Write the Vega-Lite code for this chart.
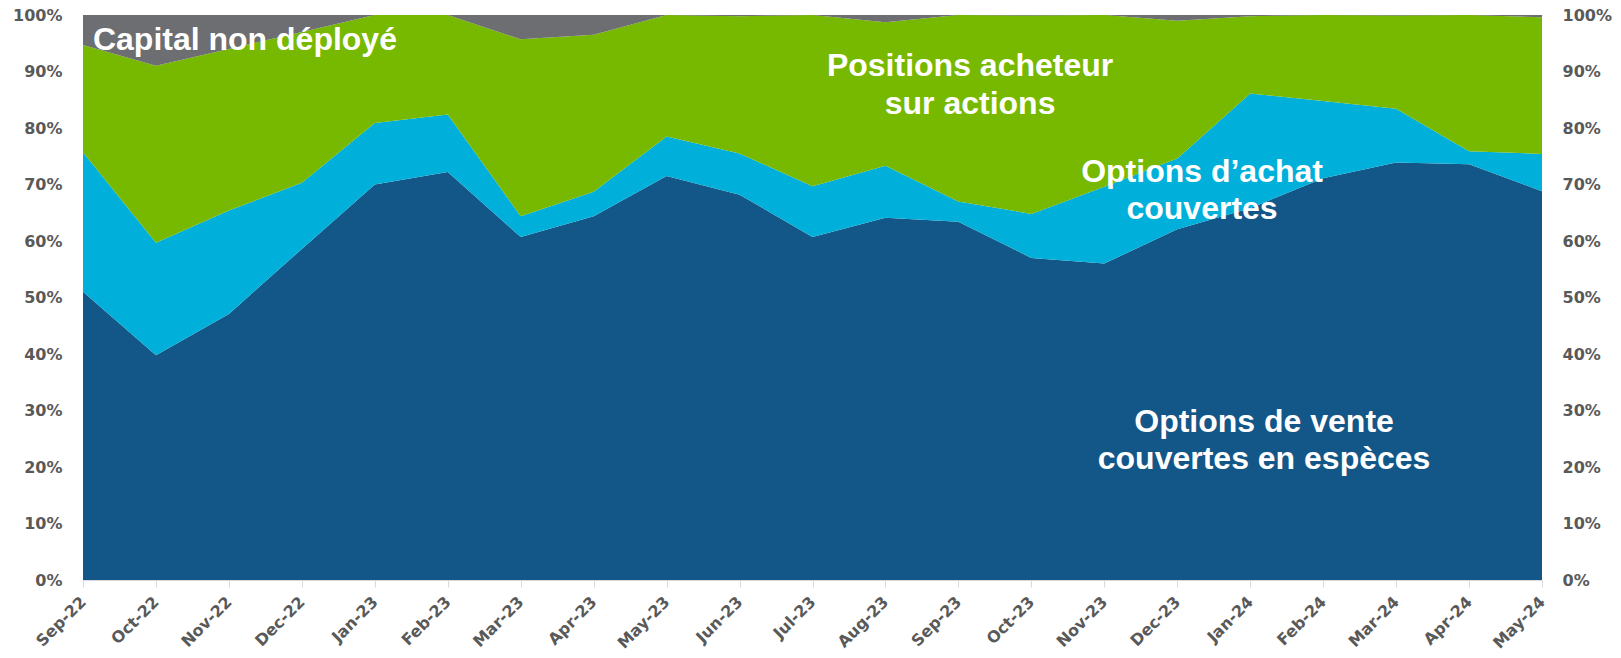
{
  "$schema": "https://vega.github.io/schema/vega-lite/v6.json",
  "width": 1459,
  "height": 565,
  "autosize": {"type": "none"},
  "padding": {"left": 83, "top": 15, "right": 79, "bottom": 78},
  "background": "white",
  "config": {"view": {"stroke": null}},
  "datasets": {
    "areas": [
      {"i": 0, "month": "Sep-22", "series": "Options de vente couvertes en espèces", "ord": 1, "value": 51.0},
      {"i": 0, "month": "Sep-22", "series": "Options d'achat couvertes", "ord": 2, "value": 24.7},
      {"i": 0, "month": "Sep-22", "series": "Positions acheteur sur actions", "ord": 3, "value": 19.0},
      {"i": 0, "month": "Sep-22", "series": "Capital non déployé", "ord": 4, "value": 5.3},
      {"i": 1, "month": "Oct-22", "series": "Options de vente couvertes en espèces", "ord": 1, "value": 39.8},
      {"i": 1, "month": "Oct-22", "series": "Options d'achat couvertes", "ord": 2, "value": 19.9},
      {"i": 1, "month": "Oct-22", "series": "Positions acheteur sur actions", "ord": 3, "value": 31.3},
      {"i": 1, "month": "Oct-22", "series": "Capital non déployé", "ord": 4, "value": 9.0},
      {"i": 2, "month": "Nov-22", "series": "Options de vente couvertes en espèces", "ord": 1, "value": 47.1},
      {"i": 2, "month": "Nov-22", "series": "Options d'achat couvertes", "ord": 2, "value": 18.3},
      {"i": 2, "month": "Nov-22", "series": "Positions acheteur sur actions", "ord": 3, "value": 28.6},
      {"i": 2, "month": "Nov-22", "series": "Capital non déployé", "ord": 4, "value": 6.0},
      {"i": 3, "month": "Dec-22", "series": "Options de vente couvertes en espèces", "ord": 1, "value": 58.6},
      {"i": 3, "month": "Dec-22", "series": "Options d'achat couvertes", "ord": 2, "value": 11.7},
      {"i": 3, "month": "Dec-22", "series": "Positions acheteur sur actions", "ord": 3, "value": 26.7},
      {"i": 3, "month": "Dec-22", "series": "Capital non déployé", "ord": 4, "value": 3.0},
      {"i": 4, "month": "Jan-23", "series": "Options de vente couvertes en espèces", "ord": 1, "value": 70.0},
      {"i": 4, "month": "Jan-23", "series": "Options d'achat couvertes", "ord": 2, "value": 10.9},
      {"i": 4, "month": "Jan-23", "series": "Positions acheteur sur actions", "ord": 3, "value": 19.1},
      {"i": 4, "month": "Jan-23", "series": "Capital non déployé", "ord": 4, "value": 0.0},
      {"i": 5, "month": "Feb-23", "series": "Options de vente couvertes en espèces", "ord": 1, "value": 72.2},
      {"i": 5, "month": "Feb-23", "series": "Options d'achat couvertes", "ord": 2, "value": 10.2},
      {"i": 5, "month": "Feb-23", "series": "Positions acheteur sur actions", "ord": 3, "value": 17.6},
      {"i": 5, "month": "Feb-23", "series": "Capital non déployé", "ord": 4, "value": 0.0},
      {"i": 6, "month": "Mar-23", "series": "Options de vente couvertes en espèces", "ord": 1, "value": 60.7},
      {"i": 6, "month": "Mar-23", "series": "Options d'achat couvertes", "ord": 2, "value": 3.7},
      {"i": 6, "month": "Mar-23", "series": "Positions acheteur sur actions", "ord": 3, "value": 31.3},
      {"i": 6, "month": "Mar-23", "series": "Capital non déployé", "ord": 4, "value": 4.3},
      {"i": 7, "month": "Apr-23", "series": "Options de vente couvertes en espèces", "ord": 1, "value": 64.4},
      {"i": 7, "month": "Apr-23", "series": "Options d'achat couvertes", "ord": 2, "value": 4.3},
      {"i": 7, "month": "Apr-23", "series": "Positions acheteur sur actions", "ord": 3, "value": 27.8},
      {"i": 7, "month": "Apr-23", "series": "Capital non déployé", "ord": 4, "value": 3.5},
      {"i": 8, "month": "May-23", "series": "Options de vente couvertes en espèces", "ord": 1, "value": 71.5},
      {"i": 8, "month": "May-23", "series": "Options d'achat couvertes", "ord": 2, "value": 7.0},
      {"i": 8, "month": "May-23", "series": "Positions acheteur sur actions", "ord": 3, "value": 21.5},
      {"i": 8, "month": "May-23", "series": "Capital non déployé", "ord": 4, "value": 0.0},
      {"i": 9, "month": "Jun-23", "series": "Options de vente couvertes en espèces", "ord": 1, "value": 68.2},
      {"i": 9, "month": "Jun-23", "series": "Options d'achat couvertes", "ord": 2, "value": 7.3},
      {"i": 9, "month": "Jun-23", "series": "Positions acheteur sur actions", "ord": 3, "value": 24.3},
      {"i": 9, "month": "Jun-23", "series": "Capital non déployé", "ord": 4, "value": 0.2},
      {"i": 10, "month": "Jul-23", "series": "Options de vente couvertes en espèces", "ord": 1, "value": 60.7},
      {"i": 10, "month": "Jul-23", "series": "Options d'achat couvertes", "ord": 2, "value": 9.0},
      {"i": 10, "month": "Jul-23", "series": "Positions acheteur sur actions", "ord": 3, "value": 30.3},
      {"i": 10, "month": "Jul-23", "series": "Capital non déployé", "ord": 4, "value": 0.0},
      {"i": 11, "month": "Aug-23", "series": "Options de vente couvertes en espèces", "ord": 1, "value": 64.1},
      {"i": 11, "month": "Aug-23", "series": "Options d'achat couvertes", "ord": 2, "value": 9.2},
      {"i": 11, "month": "Aug-23", "series": "Positions acheteur sur actions", "ord": 3, "value": 25.4},
      {"i": 11, "month": "Aug-23", "series": "Capital non déployé", "ord": 4, "value": 1.3},
      {"i": 12, "month": "Sep-23", "series": "Options de vente couvertes en espèces", "ord": 1, "value": 63.4},
      {"i": 12, "month": "Sep-23", "series": "Options d'achat couvertes", "ord": 2, "value": 3.6},
      {"i": 12, "month": "Sep-23", "series": "Positions acheteur sur actions", "ord": 3, "value": 33.0},
      {"i": 12, "month": "Sep-23", "series": "Capital non déployé", "ord": 4, "value": 0.0},
      {"i": 13, "month": "Oct-23", "series": "Options de vente couvertes en espèces", "ord": 1, "value": 57.0},
      {"i": 13, "month": "Oct-23", "series": "Options d'achat couvertes", "ord": 2, "value": 7.8},
      {"i": 13, "month": "Oct-23", "series": "Positions acheteur sur actions", "ord": 3, "value": 35.1},
      {"i": 13, "month": "Oct-23", "series": "Capital non déployé", "ord": 4, "value": 0.1},
      {"i": 14, "month": "Nov-23", "series": "Options de vente couvertes en espèces", "ord": 1, "value": 56.0},
      {"i": 14, "month": "Nov-23", "series": "Options d'achat couvertes", "ord": 2, "value": 13.6},
      {"i": 14, "month": "Nov-23", "series": "Positions acheteur sur actions", "ord": 3, "value": 30.4},
      {"i": 14, "month": "Nov-23", "series": "Capital non déployé", "ord": 4, "value": 0.0},
      {"i": 15, "month": "Dec-23", "series": "Options de vente couvertes en espèces", "ord": 1, "value": 62.1},
      {"i": 15, "month": "Dec-23", "series": "Options d'achat couvertes", "ord": 2, "value": 12.5},
      {"i": 15, "month": "Dec-23", "series": "Positions acheteur sur actions", "ord": 3, "value": 24.4},
      {"i": 15, "month": "Dec-23", "series": "Capital non déployé", "ord": 4, "value": 1.0},
      {"i": 16, "month": "Jan-24", "series": "Options de vente couvertes en espèces", "ord": 1, "value": 65.8},
      {"i": 16, "month": "Jan-24", "series": "Options d'achat couvertes", "ord": 2, "value": 20.3},
      {"i": 16, "month": "Jan-24", "series": "Positions acheteur sur actions", "ord": 3, "value": 13.7},
      {"i": 16, "month": "Jan-24", "series": "Capital non déployé", "ord": 4, "value": 0.2},
      {"i": 17, "month": "Feb-24", "series": "Options de vente couvertes en espèces", "ord": 1, "value": 71.1},
      {"i": 17, "month": "Feb-24", "series": "Options d'achat couvertes", "ord": 2, "value": 13.7},
      {"i": 17, "month": "Feb-24", "series": "Positions acheteur sur actions", "ord": 3, "value": 15.2},
      {"i": 17, "month": "Feb-24", "series": "Capital non déployé", "ord": 4, "value": 0.0},
      {"i": 18, "month": "Mar-24", "series": "Options de vente couvertes en espèces", "ord": 1, "value": 73.9},
      {"i": 18, "month": "Mar-24", "series": "Options d'achat couvertes", "ord": 2, "value": 9.5},
      {"i": 18, "month": "Mar-24", "series": "Positions acheteur sur actions", "ord": 3, "value": 16.5},
      {"i": 18, "month": "Mar-24", "series": "Capital non déployé", "ord": 4, "value": 0.1},
      {"i": 19, "month": "Apr-24", "series": "Options de vente couvertes en espèces", "ord": 1, "value": 73.6},
      {"i": 19, "month": "Apr-24", "series": "Options d'achat couvertes", "ord": 2, "value": 2.3},
      {"i": 19, "month": "Apr-24", "series": "Positions acheteur sur actions", "ord": 3, "value": 24.1},
      {"i": 19, "month": "Apr-24", "series": "Capital non déployé", "ord": 4, "value": 0.0},
      {"i": 20, "month": "May-24", "series": "Options de vente couvertes en espèces", "ord": 1, "value": 68.8},
      {"i": 20, "month": "May-24", "series": "Options d'achat couvertes", "ord": 2, "value": 6.6},
      {"i": 20, "month": "May-24", "series": "Positions acheteur sur actions", "ord": 3, "value": 24.2},
      {"i": 20, "month": "May-24", "series": "Capital non déployé", "ord": 4, "value": 0.4}
    ],
    "labels": [
      {"x": 2.22, "y": 93.8, "text": ["Capital non déployé"]},
      {"x": 12.16, "y": 89.2, "text": ["Positions acheteur", "sur actions"]},
      {"x": 15.34, "y": 70.5, "text": ["Options d’achat", "couvertes"]},
      {"x": 16.19, "y": 26.25, "text": ["Options de vente", "couvertes en espèces"]}
    ]
  },
  "layer": [
    {
      "data": {"name": "areas"},
      "mark": {"type": "area", "interpolate": "linear"},
      "encoding": {
        "x": {
          "field": "i", "type": "quantitative",
          "scale": {"domain": [0, 20], "nice": false, "zero": false},
          "axis": {
            "orient": "bottom", "title": null, "grid": false,
            "values": [0,1,2,3,4,5,6,7,8,9,10,11,12,13,14,15,16,17,18,19,20],
            "labelExpr": "['Sep-22','Oct-22','Nov-22','Dec-22','Jan-23','Feb-23','Mar-23','Apr-23','May-23','Jun-23','Jul-23','Aug-23','Sep-23','Oct-23','Nov-23','Dec-23','Jan-24','Feb-24','Mar-24','Apr-24','May-24'][datum.value]",
            "labelAngle": -45, "labelAlign": "right", "labelBaseline": "middle",
            "labelFont": "DejaVu Sans", "labelFontWeight": "bold", "labelFontSize": 16,
            "labelColor": "#595959", "labelPadding": 12, "labelOverlap": false,
            "labelBound": false, "labelFlush": false,
            "tickColor": "#d9d9d9", "tickSize": 7, "tickWidth": 1,
            "domainColor": "#d9d9d9", "domainWidth": 1
          }
        },
        "y": {
          "field": "value", "type": "quantitative", "stack": "zero",
          "scale": {"domain": [0, 100], "nice": false},
          "axis": {
            "orient": "left", "title": null, "grid": false, "domain": false, "ticks": false,
            "values": [0,10,20,30,40,50,60,70,80,90,100],
            "labelExpr": "datum.value + '%'",
            "labelFont": "DejaVu Sans", "labelFontWeight": "bold", "labelFontSize": 16,
            "labelColor": "#595959", "labelPadding": 21
          }
        },
        "color": {
          "field": "series", "type": "nominal",
          "scale": {
            "domain": ["Options de vente couvertes en espèces", "Options d'achat couvertes", "Positions acheteur sur actions", "Capital non déployé"],
            "range": ["#135688", "#00B0DA", "#76B900", "#6D6E71"]
          },
          "legend": null
        },
        "order": {"field": "ord", "type": "quantitative"}
      }
    },
    {
      "data": {"name": "labels"},
      "mark": {
        "type": "text", "font": "Liberation Sans", "fontWeight": "bold", "fontSize": 32,
        "color": "white", "align": "center", "baseline": "alphabetic", "lineHeight": 37.5
      },
      "encoding": {
        "x": {
          "field": "x", "type": "quantitative",
          "scale": {"domain": [0, 20], "nice": false, "zero": false},
          "axis": {"orient": "top", "title": null, "grid": false, "labels": false, "ticks": false, "domainColor": "#c8c8c8", "domainWidth": 1}
        },
        "y": {
          "field": "y", "type": "quantitative",
          "scale": {"domain": [0, 100], "nice": false},
          "axis": {
            "orient": "right", "title": null, "grid": false, "domain": false, "ticks": false,
            "values": [0,10,20,30,40,50,60,70,80,90,100],
            "labelExpr": "datum.value + '%'",
            "labelFont": "DejaVu Sans", "labelFontWeight": "bold", "labelFontSize": 16,
            "labelColor": "#595959", "labelPadding": 20
          }
        },
        "text": {"field": "text"}
      }
    }
  ],
  "resolve": {"axis": {"x": "independent", "y": "independent"}}
}
